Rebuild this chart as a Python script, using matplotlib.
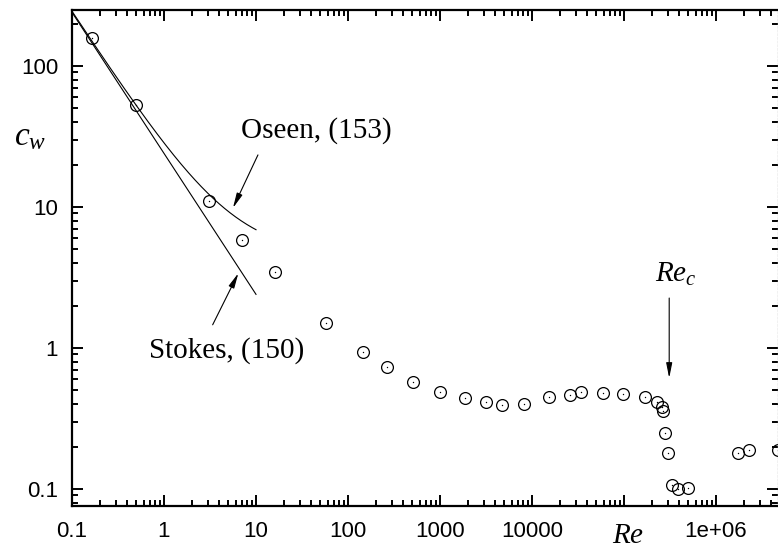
import numpy as np
import matplotlib
matplotlib.use('Agg')
import matplotlib.pyplot as plt
from matplotlib.ticker import LogLocator, NullFormatter

plt.rcParams['mathtext.fontset'] = 'custom'
plt.rcParams['mathtext.rm'] = 'Liberation Serif'
plt.rcParams['mathtext.it'] = 'Liberation Serif:italic'

re_data = [0.165, 0.497, 3.08, 7.05, 16.1, 57.7, 146, 265, 509, 1000, 1853, 3140,
           4720, 8260, 15400, 26100, 34100, 58600, 98400, 168000, 226000, 257000,
           264000, 279000, 298000, 330000, 387000, 500000, 1.72e6, 2.26e6, 4.72e6]
cw_data = [158, 52.9, 11.0, 5.84, 3.46, 1.50, 0.94, 0.73, 0.571, 0.486, 0.442, 0.412,
           0.392, 0.403, 0.447, 0.461, 0.486, 0.480, 0.469, 0.447, 0.412, 0.384,
           0.359, 0.250, 0.181, 0.107, 0.0995, 0.101, 0.180, 0.188, 0.188]

xticks = [0.1, 1, 10, 100, 1000, 10000, 100000, 1e6]
xticklabels = ['0.1', '1', '10', '100', '1000', '10000', '', '1e+06']
yticks = [0.1, 1, 10, 100]
yticklabels = ['0.1', '1', '10', '100']

# Stokes and Oseen laws
re_th = np.logspace(-1, 1, 200)
cw_stokes = 24 / re_th
cw_oseen = 24 / re_th * (1 + 3 / 16 * re_th)

fig = plt.figure(figsize=(7.78, 5.48), dpi=100)
ax = fig.add_axes([72 / 778, 42 / 548, 706 / 778, 496 / 548])

ax.plot(re_th, cw_stokes, color='black', lw=0.8)
ax.plot(re_th, cw_oseen, color='black', lw=0.8)
ax.plot(re_data, cw_data, 'o', mfc='none', mec='black', ms=8.5, mew=0.9)
ax.plot(re_data, cw_data, 'o', color='black', ms=1.0, mew=0)

ax.set_xscale('log')
ax.set_yscale('log')
ax.set_xlim(0.1, 4.72e6)
ax.set_ylim(0.0757, 249.5)

ax.set_xticks(xticks)
ax.set_xticklabels(xticklabels)
ax.set_yticks(yticks)
ax.set_yticklabels(yticklabels)
ax.xaxis.set_minor_locator(LogLocator(base=10, subs=np.arange(2, 10), numticks=20))
ax.yaxis.set_minor_locator(LogLocator(base=10, subs=np.arange(2, 10), numticks=20))
ax.xaxis.set_minor_formatter(NullFormatter())
ax.yaxis.set_minor_formatter(NullFormatter())

ax.tick_params(which='both', direction='in', top=True, right=True, width=1.4,
               labelsize=16, labelfontfamily='Liberation Sans')
ax.tick_params(which='major', length=8)
ax.tick_params(which='minor', length=4)
ax.tick_params(axis='x', pad=11)
ax.tick_params(axis='y', pad=10)
for s in ax.spines.values():
    s.set_linewidth(1.6)
ax.spines['right'].set_linewidth(1.0)
ax.spines['right'].set_color('#bbbbbb')
ax.spines['right'].set_linestyle(':')

serif = 'Liberation Serif'
arrow = dict(arrowstyle='-|>,head_width=0.18,head_length=0.9', color='black', lw=0.8,
             shrinkA=0, shrinkB=0)
ax.annotate('', xy=(5.62, 9.84), xytext=(10.5, 23.4), arrowprops=arrow)
ax.text(44.9, 34.6, 'Oseen, (153)', fontsize=21, family=serif, ha='center', va='center')
ax.annotate('', xy=(6.43, 3.39), xytext=(3.38, 1.46), arrowprops=arrow)
ax.text(4.84, 0.952, 'Stokes, (150)', fontsize=21, family=serif, ha='center', va='center')
ax.annotate('', xy=(3.1e5, 0.612), xytext=(3.1e5, 2.26), arrowprops=arrow)
ax.text(3.67e5, 3.35, '$Re_c$', fontsize=21, ha='center', va='center')

fig.text(30 / 778, 1 - 136 / 548, '$c_w$', fontsize=24, ha='center', va='center')
fig.text(628 / 778, 1 - 535 / 548, '$Re$', fontsize=21, ha='center', va='center')

fig.savefig('out.png', dpi=100)
